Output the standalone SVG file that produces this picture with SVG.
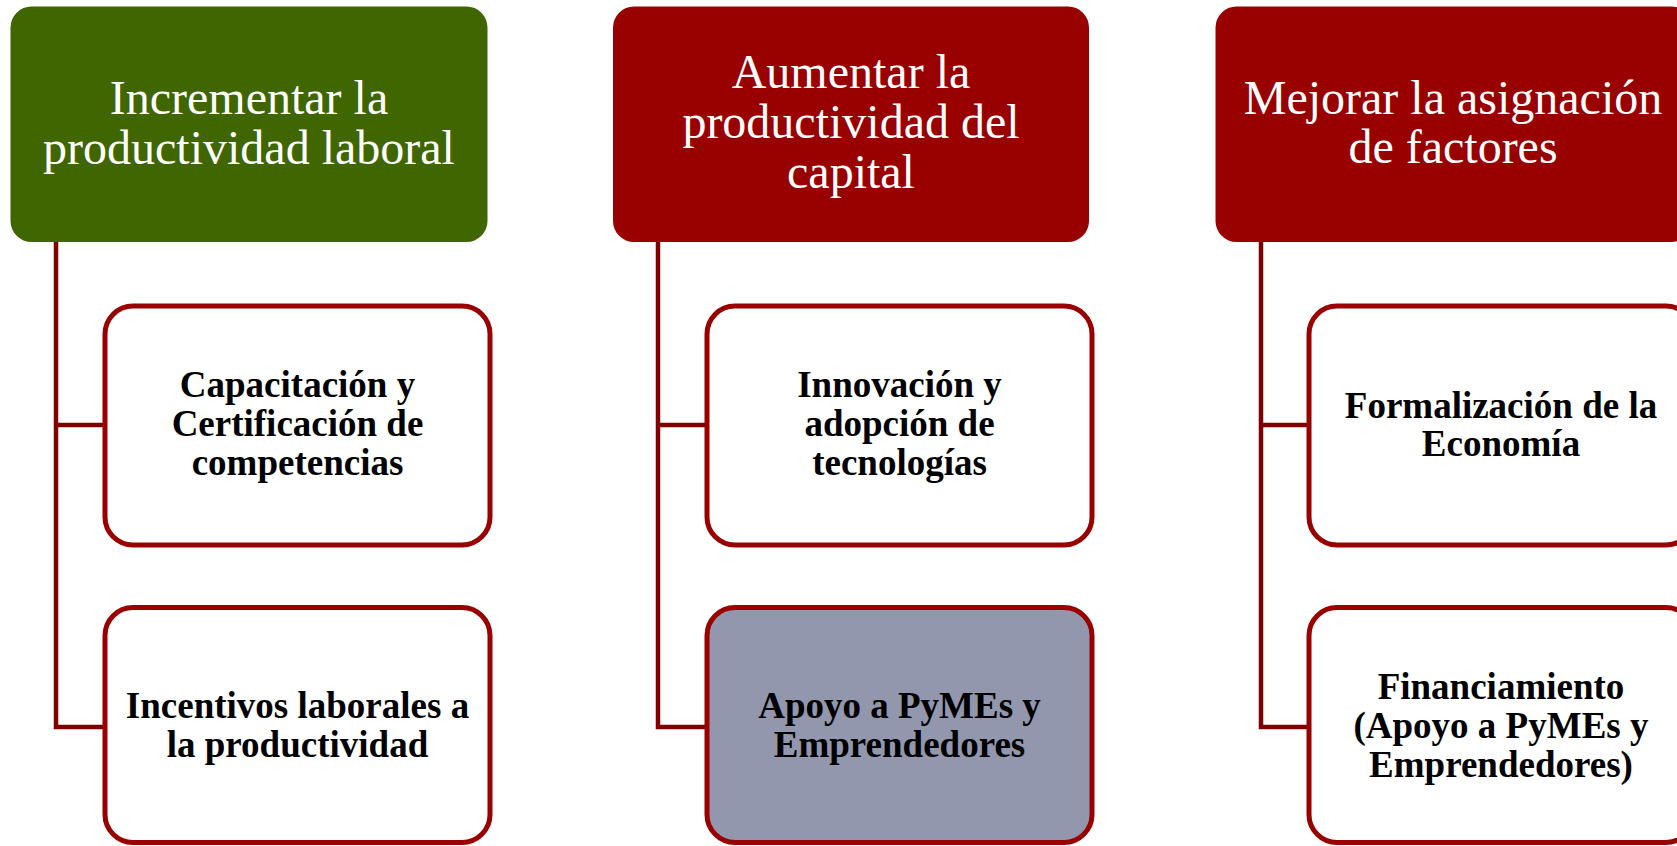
<svg xmlns="http://www.w3.org/2000/svg" width="1677" height="846" viewBox="0 0 1677 846">
<style>
.top{stroke:none}
.green{fill:#3f6600}
.red{fill:#990000}
.child{fill:#ffffff;stroke:#990000;stroke-width:5}
.gray{fill:#9297ad}
.title{font-family:"Liberation Serif","Times New Roman",serif;font-size:48px;fill:#ffffff;text-anchor:middle}
.label{font-family:"Liberation Serif","Times New Roman",serif;font-size:37px;font-weight:bold;fill:#000000;text-anchor:middle}
.conn{fill:none;stroke:#800000;stroke-width:4.5;stroke-linejoin:miter}
</style>
<rect width="1677" height="846" fill="#ffffff"/>
<g id="connectors">
<path class="conn" d="M56,242 V727 H105 M56,425 H105"/>
<path class="conn" d="M658,242 V727 H707 M658,425 H707"/>
<path class="conn" d="M1261,242 V727 H1309 M1261,425 H1309"/>
</g>
<g id="n1">
<rect class="top green" x="10.5" y="6.5" width="477" height="235.5" rx="21"/>
<text class="title"><tspan x="249" y="114">Incrementar la</tspan><tspan x="249" y="164">productividad laboral</tspan></text>
</g>
<g id="n1a">
<rect class="child" x="105" y="306" width="385" height="239" rx="28"/>
<text class="label"><tspan x="297.5" y="397">Capacitación y</tspan><tspan x="297.5" y="436">Certificación de</tspan><tspan x="297.5" y="475">competencias</tspan></text>
</g>
<g id="n1b">
<rect class="child" x="105" y="607.5" width="385" height="235" rx="28"/>
<text class="label"><tspan x="297.5" y="718">Incentivos laborales a</tspan><tspan x="297.5" y="757">la productividad</tspan></text>
</g>
<g id="n2">
<rect class="top red" x="613" y="6.5" width="476" height="235.5" rx="21"/>
<text class="title"><tspan x="851" y="88">Aumentar la</tspan><tspan x="851" y="138">productividad del</tspan><tspan x="851" y="188">capital</tspan></text>
</g>
<g id="n2a">
<rect class="child" x="707" y="306" width="385" height="239" rx="28"/>
<text class="label"><tspan x="899.5" y="397">Innovación y</tspan><tspan x="899.5" y="436">adopción de</tspan><tspan x="899.5" y="475">tecnologías</tspan></text>
</g>
<g id="n2b">
<rect class="child gray" x="707" y="607.5" width="385" height="235" rx="28"/>
<text class="label"><tspan x="899.5" y="718">Apoyo a PyMEs y</tspan><tspan x="899.5" y="757">Emprendedores</tspan></text>
</g>
<g id="n3">
<rect class="top red" x="1215.5" y="6.5" width="477" height="235.5" rx="21"/>
<text class="title"><tspan x="1453" y="114">Mejorar la asignación</tspan><tspan x="1453" y="163">de factores</tspan></text>
</g>
<g id="n3a">
<rect class="child" x="1309" y="306" width="385" height="239" rx="28"/>
<text class="label"><tspan x="1501" y="418">Formalización de la</tspan><tspan x="1501" y="456">Economía</tspan></text>
</g>
<g id="n3b">
<rect class="child" x="1309" y="607.5" width="385" height="235" rx="28"/>
<text class="label"><tspan x="1501" y="699">Financiamiento</tspan><tspan x="1501" y="738">(Apoyo a PyMEs y</tspan><tspan x="1501" y="777">Emprendedores)</tspan></text>
</g>
</svg>
